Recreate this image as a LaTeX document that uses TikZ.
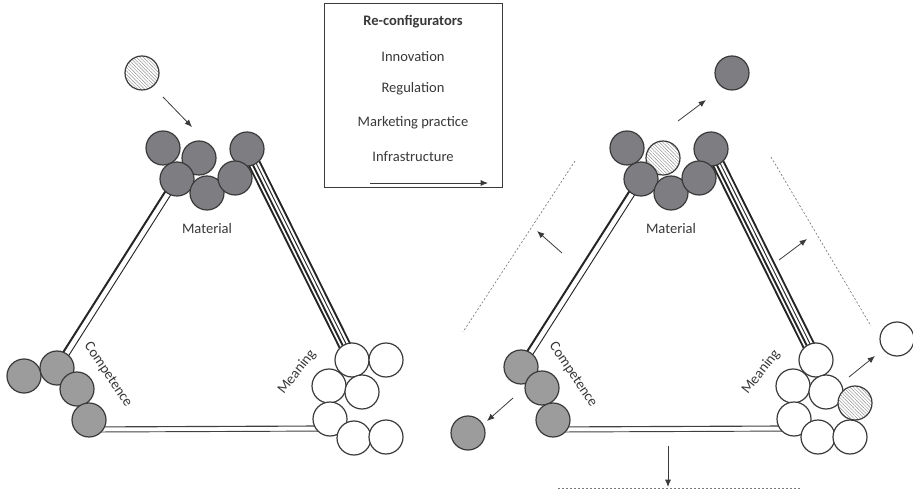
\documentclass[tikz,border=0pt]{standalone}
\usepackage{fontspec}
\setmainfont{Carlito}
\usetikzlibrary{calc,arrows.meta,patterns.meta}
\pgfdeclarelayer{background}
\pgfsetlayers{background,main}
\definecolor{cline}{HTML}{3A3A3A}
\definecolor{matgray}{HTML}{7E7E82}
\definecolor{compgray}{HTML}{9C9C9C}
\definecolor{txt}{HTML}{383838}
\definecolor{dashc}{HTML}{7A7A7A}
\tikzset{
  ball/.style={circle, draw=cline, line width=0.9pt, minimum size=25.5pt, inner sep=0pt},
  matc/.style={ball, fill=matgray},
  compc/.style={ball, fill=compgray},
  meanc/.style={ball, fill=white},
  hatc/.style={ball, preaction={fill=white}, pattern={Lines[angle=-45,distance=1.8pt,line width=0.35pt]}, pattern color=gray!85},
  lbl/.style={font=\fontsize{10.9pt}{12pt}\selectfont, text=txt, inner sep=0pt},
  arr/.style={draw=cline, line width=0.6pt, -{Latex[length=5.5pt,width=4.5pt]}},
  dotl/.style={draw=dashc, line width=0.5pt, dash pattern=on 1.5pt off 1.5pt},
}
\begin{document}
\begin{tikzpicture}[x=0.75pt,y=-0.75pt]
\useasboundingbox (0,0) rectangle (913,491);

% ---------- legend ----------
\node[draw=cline, line width=0.75pt, minimum width=133.5pt, minimum height=138pt, inner sep=0pt] (legend) at (413,96) {};
\node[lbl, font=\fontsize{10.9pt}{12pt}\selectfont\bfseries] (lg0) at (413,22) {Re-configurators};
\node[lbl] (lg1) at (413,57) {Innovation};
\node[lbl] (lg2) at (413,89) {Regulation};
\node[lbl] (lg3) at (413,123) {Marketing practice};
\node[lbl] (lg4) at (413,157) {Infrastructure};
\coordinate (la1) at (370,183);
\coordinate (la2) at (488,183);
\draw[arr] (la1) -- (la2);

% ---------- left triangle ----------
\node[matc] (Lm1) at (163,148) {};
\node[matc] (Lm3) at (199,158) {};
\node[matc] (Lm6) at (247,149) {};
\node[matc] (Lm2) at (177,179) {};
\node[matc] (Lm4) at (207,193) {};
\node[matc] (Lm5) at (235,178) {};
\node[hatc] (Lh) at (142,73) {};
\coordinate (La1) at (163,97);
\coordinate (La2) at (192,127);
\draw[arr] (La1) -- (La2);

\node[compc] (Lc1) at (24,376) {};
\node[compc] (Lc2) at (57,368) {};
\node[compc] (Lc3) at (77,389) {};
\node[compc] (Lc4) at (89,420) {};

\node[meanc] (Ln1) at (352,360) {};
\node[meanc] (Ln2) at (386,360) {};
\node[meanc] (Ln3) at (329,386) {};
\node[meanc] (Ln4) at (362,392) {};
\node[meanc] (Ln5) at (330,419) {};
\node[meanc] (Ln6) at (354,438) {};
\node[meanc] (Ln7) at (386,437) {};

\node[lbl] (Lmat) at (207,229) {Material};
\node[lbl, rotate=-56] (Lcomp) at (108,375) {Competence};
\node[lbl, rotate=52] (Lmean) at (297,372) {Meaning};

% ---------- right triangle ----------
\node[matc] (Rm1) at (627,148) {};
\node[hatc] (Rm3) at (663,158) {};
\node[matc] (Rm6) at (711,149) {};
\node[matc] (Rm2) at (641,179) {};
\node[matc] (Rm4) at (671,193) {};
\node[matc] (Rm5) at (699,178) {};
\node[matc] (Rout1) at (732,73) {};
\coordinate (Ra1) at (678,121);
\coordinate (Ra2) at (706,100);
\draw[arr] (Ra1) -- (Ra2);

\node[compc] (Rc2) at (521,367) {};
\node[compc] (Rc3) at (542,388) {};
\node[compc] (Rc4) at (553,420) {};
\node[compc] (Rout2) at (468,433) {};
\coordinate (Rb1) at (513,398);
\coordinate (Rb2) at (487,421);
\draw[arr] (Rb1) -- (Rb2);

\node[meanc] (Rn1) at (816,360) {};
\node[meanc] (Rn3) at (793,386) {};
\node[meanc] (Rn4) at (826,392) {};
\node[hatc] (Rnh) at (855,403) {};
\node[meanc] (Rn5) at (794,419) {};
\node[meanc] (Rn6) at (818,437) {};
\node[meanc] (Rn7) at (850,437) {};
\node[meanc] (Rout3) at (897,339) {};
\coordinate (Rc1a) at (849,377);
\coordinate (Rc1b) at (875,356);
\draw[arr] (Rc1a) -- (Rc1b);

\node[lbl] (Rmat) at (671,229) {Material};
\node[lbl, rotate=-56] (Rcomp) at (573,375) {Competence};
\node[lbl, rotate=52] (Rmean) at (761,372) {Meaning};

% dotted boundaries and arrows
\coordinate (Dl1) at (575,161);
\coordinate (Dl2) at (463,332);
\draw[dotl] (Dl1) -- (Dl2);
\coordinate (Dr1) at (771,157);
\coordinate (Dr2) at (871,326);
\draw[dotl] (Dr1) -- (Dr2);
\coordinate (Db1) at (558,488);
\coordinate (Db2) at (801,488);
\draw[dotl] (Db1) -- (Db2);
\coordinate (Al1) at (562,253);
\coordinate (Al2) at (537,231);
\draw[arr] (Al1) -- (Al2);
\coordinate (Ar1) at (779,260);
\coordinate (Ar2) at (807,239);
\draw[arr] (Ar1) -- (Ar2);
\coordinate (Ad1) at (668,446);
\coordinate (Ad2) at (668,487);
\draw[arr] (Ad1) -- (Ad2);

% ---------- edges (background) ----------
\begin{pgfonlayer}{background}
  % left triangle
  \foreach \o/\w in {-2.4/1.5, 2.4/0.7}
    \draw[line width=\w pt, black!85] ($(Lm2.center)!\o pt!90:(Lc2.center)$) -- ($(Lc2.center)!\o pt!-90:(Lm2.center)$);
  \foreach \o/\w in {-4.2/1.4, -1.4/1.4, 1.4/0.7, 4.2/1.4}
    \draw[line width=\w pt, black!85] ($(Lm6.center)!\o pt!90:(Ln1.center)$) -- ($(Ln1.center)!\o pt!-90:(Lm6.center)$);
  \coordinate (Lb1) at ($(Lc4.center)+(0,9.5)$);
  \coordinate (Lb2) at ($(Ln5.center)+(0,9.5)$);
  \foreach \o/\w in {-1.9/0.7, 1.9/0.85}
    \draw[line width=\w pt, black!75] ($(Lb1)+(0,\o pt)$) -- ($(Lb2)+(0,\o pt)$);
  % right triangle
  \foreach \o/\w in {-2.4/1.5, 2.4/0.7}
    \draw[line width=\w pt, black!85] ($(Rm2.center)!\o pt!90:(Rc2.center)$) -- ($(Rc2.center)!\o pt!-90:(Rm2.center)$);
  \foreach \o/\w in {-4.2/1.4, -1.4/1.4, 1.4/0.7, 4.2/1.4}
    \draw[line width=\w pt, black!85] ($(Rm6.center)!\o pt!90:(Rn1.center)$) -- ($(Rn1.center)!\o pt!-90:(Rm6.center)$);
  \coordinate (Rb1x) at ($(Rc4.center)+(0,9.5)$);
  \coordinate (Rb2x) at ($(Rn5.center)+(0,9.5)$);
  \foreach \o/\w in {-1.9/0.7, 1.9/0.85}
    \draw[line width=\w pt, black!75] ($(Rb1x)+(0,\o pt)$) -- ($(Rb2x)+(0,\o pt)$);
\end{pgfonlayer}
\end{tikzpicture}
\end{document}
